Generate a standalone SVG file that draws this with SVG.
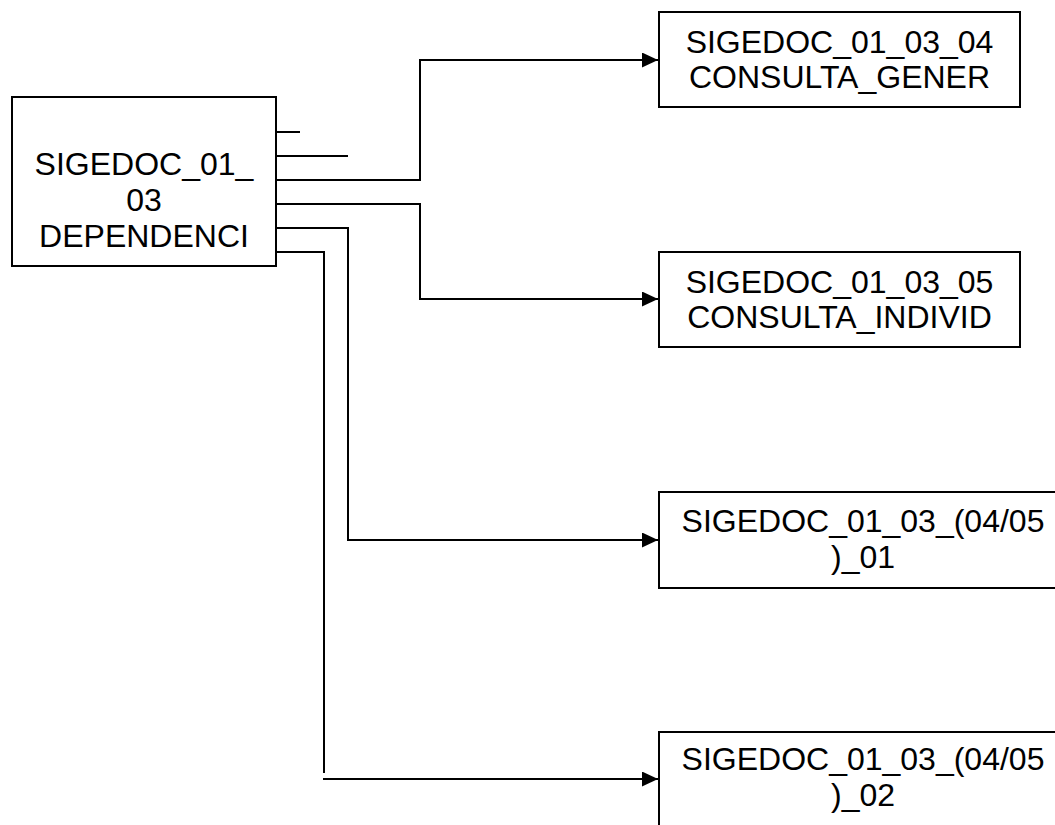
<svg xmlns="http://www.w3.org/2000/svg" width="1055" height="825" viewBox="0 0 1055 825">
<style>
.box{fill:#fff;stroke:#000;stroke-width:2}
.t{font-family:"Liberation Sans",Arial,sans-serif;font-size:32px;fill:#000;text-anchor:middle}
.c{fill:none;stroke:#000;stroke-width:2}
</style>
<defs>
<marker id="arr" markerWidth="16" markerHeight="15" refX="16" refY="7.5" orient="auto" markerUnits="userSpaceOnUse">
<path d="M0,0 L16,7.5 L0,15 Z" fill="#000"/>
</marker>
</defs>
<rect width="1055" height="825" fill="#fff"/>
<g id="connectors">
<line class="c" x1="276" y1="132" x2="300" y2="132"/>
<line class="c" x1="276" y1="156" x2="348" y2="156"/>
<path class="c" d="M276,180 H420 V60 H658" marker-end="url(#arr)"/>
<path class="c" d="M276,204 H420 V299 H658" marker-end="url(#arr)"/>
<path class="c" d="M276,228 H348 V540 H658" marker-end="url(#arr)"/>
<path class="c" d="M276,252 H324 V773"/>
<path class="c" d="M323,779 H658" marker-end="url(#arr)"/>
</g>
<g id="n0">
<rect class="box" x="12" y="97" width="264" height="169"/>
<text class="t" x="144" y="175">SIGEDOC_01_</text>
<text class="t" x="144" y="211">03</text>
<text class="t" x="144" y="247">DEPENDENCI</text>
</g>
<g id="n1">
<rect class="box" x="659" y="12" width="361" height="95"/>
<text class="t" x="839.5" y="53">SIGEDOC_01_03_04</text>
<text class="t" x="839.5" y="88">CONSULTA_GENER</text>
</g>
<g id="n2">
<rect class="box" x="659" y="252" width="361" height="95"/>
<text class="t" x="839.5" y="293">SIGEDOC_01_03_05</text>
<text class="t" x="839.5" y="328">CONSULTA_INDIVID</text>
</g>
<g id="n3">
<rect class="box" x="659" y="492" width="408" height="96"/>
<text class="t" x="863" y="532">SIGEDOC_01_03_(04/05</text>
<text class="t" x="863" y="568">)_01</text>
</g>
<g id="n4">
<rect class="box" x="659" y="732" width="408" height="110"/>
<text class="t" x="863" y="770">SIGEDOC_01_03_(04/05</text>
<text class="t" x="863" y="806">)_02</text>
</g>
</svg>
